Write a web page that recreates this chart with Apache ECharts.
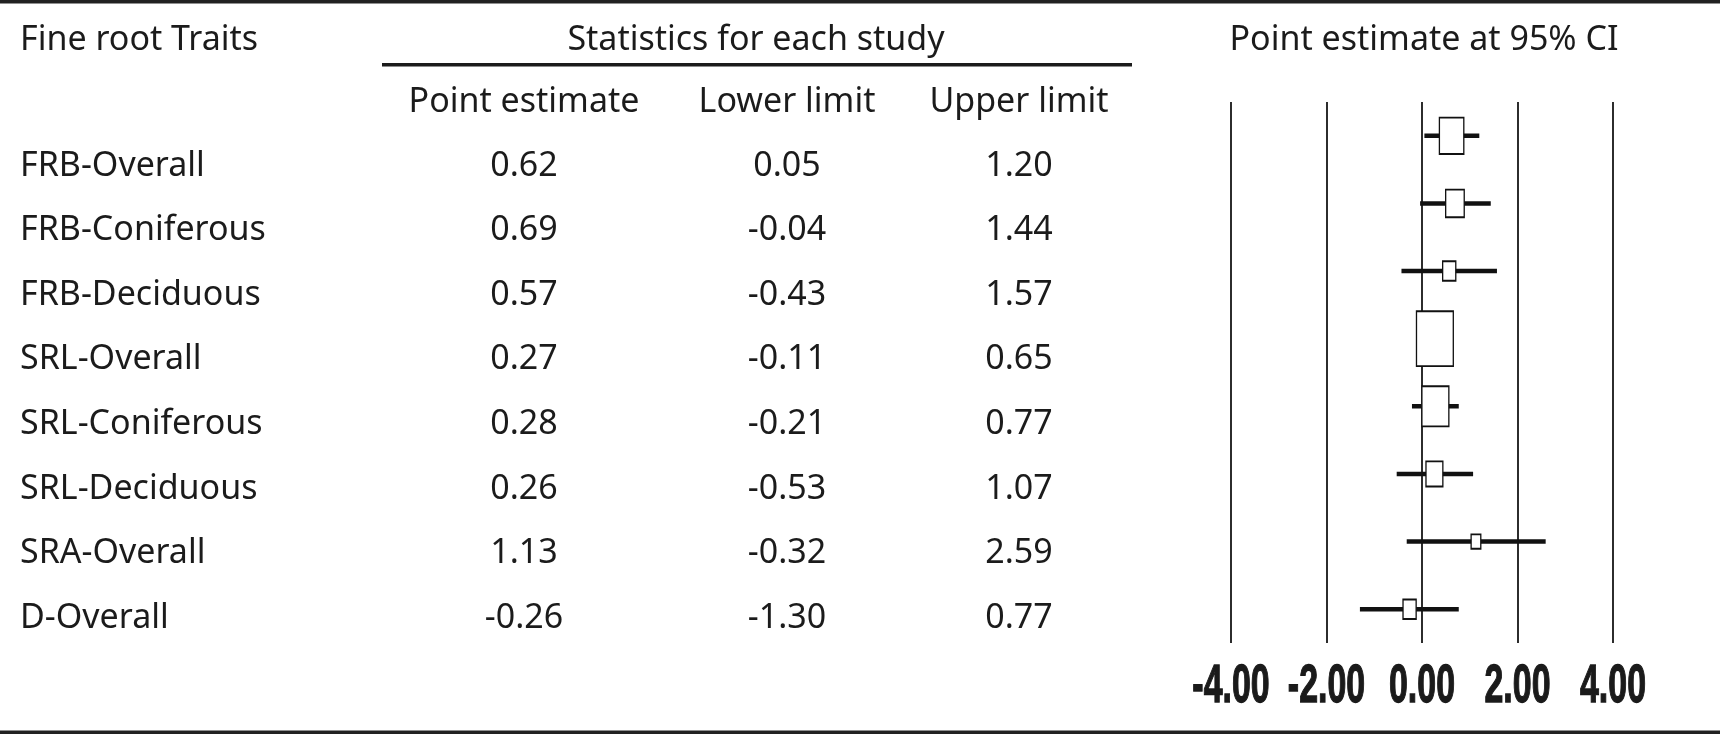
<!DOCTYPE html>
<html>
<head>
<meta charset="utf-8">
<script src="https://cdn.jsdelivr.net/npm/echarts@6/dist/echarts.min.js"></script>
<style>
html,body{margin:0;padding:0;background:#fff;}
#chart{width:1720px;height:734px;}
</style>
</head>
<body>
<div id="chart"></div>
<script>
// ---- data ----
const traits = ['FRB-Overall','FRB-Coniferous','FRB-Deciduous','SRL-Overall','SRL-Coniferous','SRL-Deciduous','SRA-Overall','D-Overall'];
const pointEstimate = [0.62, 0.69, 0.57, 0.27, 0.28, 0.26, 1.13, -0.26];
const lowerLimit    = [0.05, -0.04, -0.43, -0.11, -0.21, -0.53, -0.32, -1.30];
const upperLimit    = [1.20, 1.44, 1.57, 0.65, 0.77, 1.07, 2.59, 0.77];
const relWeight     = [15.9, 9.2, 4.6, 36.2, 19.4, 7.6, 2.5, 4.6]; // relative weight (%)
const columnHeaders = ['Point estimate', 'Lower limit', 'Upper limit'];
const xTickLabels   = ['-4.00', '-2.00', '0.00', '2.00', '4.00'];

// ---- layout ----
const W = 1720, H = 734;
const textFont = '"Noto Sans", "Open Sans", sans-serif';
const textSize = 34;
const textColor = '#1b1b1b';
const colX = [524, 787, 1019];
const tableTop = 133.5, tableBottom = 650.5;
const plotLeft = 1231, plotRight = 1613, plotTop = 102, plotBottom = 643;

const chart = echarts.init(document.getElementById('chart'), null, {renderer: 'canvas'});

const columns = [pointEstimate, lowerLimit, upperLimit];

function boxSize(i) {
  const w = 6.12 * Math.sqrt(relWeight[i]);
  return [w, w * 1.49];
}

const option = {
  backgroundColor: '#fff',
  animation: false,
  grid: [
    {left: 0, right: 0, top: tableTop, bottom: H - tableBottom},
    {left: plotLeft, right: W - plotRight, top: plotTop, bottom: H - plotBottom}
  ],
  xAxis: [
    {gridIndex: 0, type: 'value', min: 0, max: W, show: false},
    {
      gridIndex: 1, type: 'value', min: -4, max: 4, interval: 2,
      axisLine: {show: false}, axisTick: {show: false},
      splitLine: {show: true, lineStyle: {color: '#222', width: 1.9}},
      axisLabel: {show: false}
    }
  ],
  yAxis: [
    {
      gridIndex: 0, type: 'category', data: traits, inverse: true,
      axisLine: {show: false}, axisTick: {show: false}, splitLine: {show: false},
      axisLabel: {inside: true, margin: 20, align: 'left', fontFamily: textFont, fontSize: textSize, color: textColor}
    },
    {gridIndex: 1, type: 'category', data: traits, inverse: true, show: false}
  ],
  series: [
    {
      type: 'custom', xAxisIndex: 0, yAxisIndex: 0,
      data: traits.map((t, i) => i),
      renderItem: function (params, api) {
        const i = api.value(0);
        const children = columns.map((col, c) => {
          const p = api.coord([colX[c], i]);
          return {
            type: 'text',
            style: {x: p[0], y: p[1], text: col[i].toFixed(2), align: 'center', verticalAlign: 'middle',
                    font: textSize + 'px ' + textFont, fill: textColor}
          };
        });
        return {type: 'group', children: children};
      },
      silent: true
    },
    {
      type: 'custom', xAxisIndex: 1, yAxisIndex: 1,
      data: traits.map((t, i) => [lowerLimit[i], upperLimit[i], i]),
      renderItem: function (params, api) {
        const a = api.coord([api.value(0), api.value(2)]);
        const b = api.coord([api.value(1), api.value(2)]);
        return {type: 'line', shape: {x1: a[0], y1: a[1], x2: b[0], y2: b[1]},
                style: {stroke: '#111', lineWidth: 4.4}};
      },
      z: 2, silent: true
    },
    {
      type: 'scatter', xAxisIndex: 1, yAxisIndex: 1,
      data: traits.map((t, i) => [pointEstimate[i], i]),
      symbol: 'rect',
      symbolSize: function (val, params) { return boxSize(params.dataIndex); },
      itemStyle: {color: '#fff', borderColor: '#111', borderWidth: 1.6, opacity: 1},
      z: 3, silent: true
    },
    {
      // x-axis tick labels (condensed bold), placed with the axis scale
      type: 'custom', xAxisIndex: 1, yAxisIndex: 1, clip: false,
      data: xTickLabels.map(s => [parseFloat(s)]),
      renderItem: function (params, api) {
        const v = api.value(0);
        const p = api.coord([v, 0]);
        const y = params.coordSys.y + params.coordSys.height + 44;
        return {
          type: 'text', x: p[0], y: y, scaleX: 0.64,
          style: {x: 0, y: 0, text: xTickLabels[params.dataIndex], align: 'center', verticalAlign: 'middle',
                  font: 'bold 53px "Liberation Sans", Arimo, Arial, sans-serif', fill: '#1a1a1a',
                  stroke: '#1a1a1a', lineWidth: 1.3}
        };
      },
      silent: true
    }
  ],
  graphic: [
    {type: 'rect', shape: {x: 0, y: 0, width: W, height: 3.5}, style: {fill: '#222'}},
    {type: 'rect', shape: {x: 0, y: 730.5, width: W, height: 3.5}, style: {fill: '#222'}},
    {type: 'text', style: {x: 20, y: 40, text: 'Fine root Traits', align: 'left', verticalAlign: 'middle', font: textSize + 'px ' + textFont, fill: textColor}},
    {type: 'text', style: {x: 756, y: 40, text: 'Statistics for each study', align: 'center', verticalAlign: 'middle', font: textSize + 'px ' + textFont, fill: textColor}},
    {type: 'rect', shape: {x: 382, y: 63, width: 750, height: 3.5}, style: {fill: '#1b1b1b'}},
    {type: 'text', style: {x: 1424, y: 40, text: 'Point estimate at 95% CI', align: 'center', verticalAlign: 'middle', font: textSize + 'px ' + textFont, fill: textColor}}
  ].concat(columnHeaders.map((h, c) => ({
    type: 'text', style: {x: colX[c], y: 102, text: h, align: 'center', verticalAlign: 'middle', font: textSize + 'px ' + textFont, fill: textColor}
  })))
};

chart.setOption(option);
</script>
</body>
</html>
